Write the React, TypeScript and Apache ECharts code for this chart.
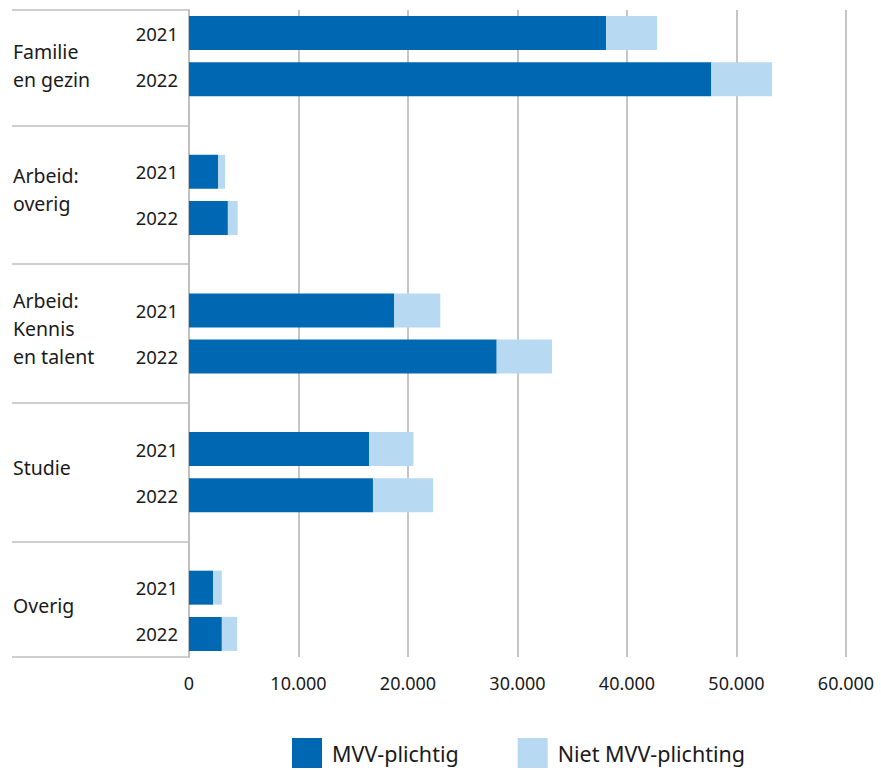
import React, { useEffect, useRef } from "react";
import * as echarts from "echarts";

const groups = ["Familie\nen gezin", "Arbeid:\noverig", "Arbeid:\nKennis\nen talent", "Studie", "Overig"];
const years = ["2021", "2022"];
// values per group, per year (2021, 2022)
const mvvPlichtig = [38100, 47700, 2650, 3550, 18750, 28100, 16450, 16800, 2200, 3000];
const nietMvvPlichtig = [4650, 5550, 650, 900, 4200, 5050, 4050, 5500, 800, 1400];
const xTicks = [0, 10000, 20000, 30000, 40000, 50000, 60000];
const seriesNames = ["MVV-plichtig", "Niet MVV-plichting"];

const FONT = "Noto Sans";
const TEXT = "#1a1a1a";

export default function App() {
  const ref = useRef<HTMLDivElement>(null);
  useEffect(() => {
    if (!ref.current) return;
    const chart = echarts.init(ref.current, undefined, { renderer: "svg" });

    // build slots: year rows, with an empty slot between groups
    const cats: string[] = [];
    const d1: (number | string)[] = [];
    const d2: (number | string)[] = [];
    groups.forEach((g, gi) => {
      years.forEach((y, yi) => {
        cats.push(y + "|" + gi);
        d1.push(mvvPlichtig[gi * years.length + yi]);
        d2.push(nietMvvPlichtig[gi * years.length + yi]);
      });
      if (gi < groups.length - 1) {
        cats.push("|gap" + gi);
        d1.push("-");
        d2.push("-");
      }
    });
    const n = cats.length; // 14
    // half-slot axis for the group label column
    const halfCount = n * 2 + 1;
    const halfCats: string[] = [];
    const sepIdx: number[] = [0, n * 2];
    for (let i = 0; i < halfCount; i++) halfCats.push("h" + i);
    let slot = 0;
    const firstLabelIdx = years.length;
    groups.forEach((g, gi) => {
      const center = slot * 2 + years.length; // half-slot index of group centre
      halfCats[center] = g;
      slot += years.length;
      if (gi < groups.length - 1) {
        sepIdx.push(slot * 2 + 1);
        slot += 1;
      }
    });

    const fmt = (v: number) => String(v).replace(/\B(?=(\d{3})+(?!\d))/g, ".");
    const groupFmt = (v: string, idx: number) => {
      if (/^h\d+$/.test(v)) return "";
      const body = v.split("\n").map((l) => "{n|" + l + "}").join("\n");
      if (idx === firstLabelIdx) return "{t| }\n" + body;
      return body + "\n{s| }";
    };

    chart.setOption({
      animation: false,
      textStyle: { fontFamily: FONT },
      grid: [
        { left: 189, right: 35, top: 10, height: 647 },
        { left: 12, width: 177, top: 10, height: 647 },
      ],
      legend: {
        left: 292,
        top: 738,
        padding: 0,
        itemWidth: 30,
        itemHeight: 30,
        itemGap: 59,
        icon: "rect",
        data: seriesNames,
        textStyle: { fontFamily: FONT, fontSize: 21.5, lineHeight: 26, color: TEXT, padding: [0, 0, 0, 5] },
      },
      xAxis: [
        {
          gridIndex: 0,
          type: "value",
          min: xTicks[0],
          max: xTicks[xTicks.length - 1],
          interval: xTicks[1] - xTicks[0],
          axisLine: { show: false },
          axisTick: { show: false },
          axisLabel: {
            margin: 17,
            fontSize: 18,
            color: TEXT,
            fontFamily: FONT,
            formatter: (v: number) => fmt(v),
          },
          splitLine: { show: true, lineStyle: { color: "#c6c6c6", width: 2 } },
        },
        { gridIndex: 1, type: "value", min: 0, max: 1, show: false },
      ],
      yAxis: [
        {
          gridIndex: 0,
          type: "category",
          inverse: true,
          data: cats,
          axisLine: { show: true, lineStyle: { color: "#c0c0c0", width: 2 } },
          axisTick: { show: false },
          axisLabel: {
            interval: 0,
            margin: 11,
            fontSize: 18.5,
            color: TEXT,
            fontFamily: FONT,
            formatter: (v: string) => v.split("|")[0],
          },
          splitLine: { show: false },
        },
        {
          gridIndex: 1,
          type: "category",
          inverse: true,
          boundaryGap: false,
          data: halfCats,
          axisLine: { show: false },
          axisTick: { show: false },
          axisLabel: {
            inside: true,
            interval: 0,
            margin: 1,
            fontSize: 19.5,
            lineHeight: 28,
            color: TEXT,
            fontFamily: FONT,
            align: "left",
            formatter: groupFmt,
            rich: {
              n: { fontSize: 19.5, lineHeight: 28, color: TEXT, fontFamily: FONT },
              s: { fontSize: 2, lineHeight: 10, color: TEXT, fontFamily: FONT },
              t: { fontSize: 2, lineHeight: 18, color: TEXT, fontFamily: FONT },
            },
          },
          splitLine: {
            show: true,
            interval: (i: number) => sepIdx.indexOf(i) >= 0,
            lineStyle: { color: "#cfcfcf", width: 2 },
          },
        },
      ],
      series: [
        {
          name: seriesNames[0],
          type: "bar",
          stack: "total",
          xAxisIndex: 0,
          yAxisIndex: 0,
          barWidth: 34,
          itemStyle: { color: "#0068b2" },
          data: d1,
        },
        {
          name: seriesNames[1],
          type: "bar",
          stack: "total",
          xAxisIndex: 0,
          yAxisIndex: 0,
          barWidth: 34,
          itemStyle: { color: "#b7daf2" },
          data: d2,
        },
      ],
    });
    return () => chart.dispose();
  }, []);
  return <div ref={ref} style={{ width: 881, height: 770, position: "absolute", left: 0, top: 0 }} />;
}
